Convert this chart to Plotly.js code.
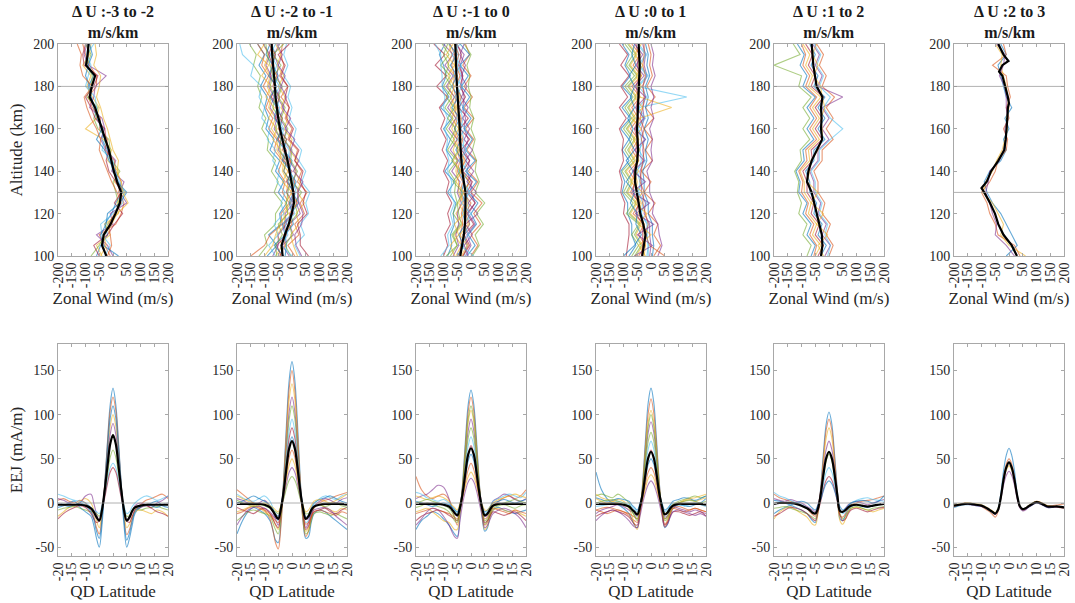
<!DOCTYPE html>
<html>
<head>
<meta charset="utf-8">
<script src="https://cdn.plot.ly/plotly-3.0.1.min.js"></script>
<style>html,body{margin:0;padding:0;background:#fff;}#chart{width:1075px;height:603px;}</style>
</head>
<body>
<div id="chart"></div>
<script>
// ---------- data ----------
const panelTitles = ['Δ U :-3 to -2', 'Δ U :-2 to -1', 'Δ U :-1 to 0', 'Δ U :0 to 1', 'Δ U :1 to 2', 'Δ U :2 to 3'];
const windTicks = [-200, -150, -100, -50, 0, 50, 100, 150, 200];
const altTicks = [100, 120, 140, 160, 180, 200];
const latTicks = [-20, -15, -10, -5, 0, 5, 10, 15, 20];
const eejTicks = [-50, 0, 50, 100, 150];
const refAlts = [130, 180];
const refEej = [0];

const altGrid = [100,105,110,115,120,125,130,135,140,145,150,155,160,165,170,175,180,185,190,195,200];
const alt6 = [100,105,110,115,120,125,130,132,135,140,145,150,155,160,165,170,172,175,180,185,187,190,192,195,200];

const windMean1 = [-24,-40,-34,-9,9,25,30,15,3,-6,-15,-28,-40,-52,-65,-85,-77,-65,-98,-92,-89];
const windMean2 = [-34,-38,-26,-12,-1,7,5,-2,-7,-16,-26,-35,-44,-50,-56,-60,-62,-66,-70,-72,-74];
const windMean3 = [-39,-32,-26,-22,-20,-20,-20,-27,-32,-35,-38,-40,-41,-44,-47,-49,-51,-53,-55,-56,-57];
const windMean4 = [-32,-26,-20,-28,-39,-45,-51,-58,-57,-50,-47,-48,-51,-49,-47,-46,-45,-42,-41,-43,-45];
const windMean5 = [-29,-24,-26,-35,-45,-54,-63,-80,-75,-63,-45,-25,-29,-27,-29,-24,-45,-52,-57,-60,-63];
const windMean6 = [29,10,-20,-39,-51,-69,-90,-100,-81,-65,-39,-17,-12,-8,-6,-4,0,-4,-14,-24,-36,-24,-2,-20,-39];

const windMembers1 = [
 [-60,-45,-20,-30,-5,10,35,20,0,-10,-20,-40,-35,-60,-70,-80,-90,-70,-100,-95,-90],
 [-10,-30,-50,10,30,40,20,30,10,5,-30,-20,-50,-45,-75,-90,-60,-60,-85,-100,-110],
 [-40,-60,-10,-30,20,15,45,5,20,-20,-5,-35,-100,-60,-50,-75,-95,-80,-110,-85,-80],
 [0,-20,-60,0,-10,50,25,40,-5,10,-25,-45,-30,-40,-85,-70,-65,-25,-90,-105,-95],
 [-80,-50,-30,-20,10,20,10,0,25,-5,-10,-15,-55,-70,-55,-95,-80,-75,-95,-80,-100],
 [-30,-10,-40,-45,0,35,40,25,5,0,-40,-30,-45,-55,-60,-65,-100,-90,-80,-95,-70],
 [-50,-70,-20,5,35,5,30,10,-15,-25,-15,-25,-30,-65,-80,-100,-70,-55,-105,-110,-100],
 [20,-35,-45,-25,-20,25,50,15,10,-15,-30,-60,-40,-50,-65,-80,-85,-100,-90,-75,-85],
 [-20,-5,-10,-15,5,30,15,-5,-20,-35,-50,-45,-60,-80,-95,-105,-75,-110,-120,-115,-130],
 [-45,-25,-35,-5,15,55,35,30,15,20,0,-10,-20,-35,-45,-60,-50,-45,-70,-60,-65]
];
const windMembers2 = [
 [-90,-55,-85,-40,-45,-20,-50,-30,-60,-45,-80,-65,-95,-85,-100,-90,-115,-95,-120,-100,-125],
 [10,-15,25,10,45,30,55,20,35,10,20,-15,0,-25,-10,-40,-15,-45,-30,-40,-35],
 [-60,-35,-55,-25,-30,-5,-20,-15,-35,-30,-55,-50,-75,-60,-85,-75,-90,-80,-100,-85,-105],
 [-10,-35,5,-10,30,15,25,5,15,-10,-5,-30,-20,-45,-30,-55,-40,-55,-50,-65,-45],
 [-120,-90,-100,-60,-60,-35,-65,-50,-75,-60,-90,-85,-110,-95,-120,-110,-125,-115,-140,-130,-155],
 [30,10,45,30,60,50,65,35,50,25,35,5,15,-10,0,-15,-5,-30,-15,-30,-20],
 [-40,-55,-20,-30,5,-5,10,-20,0,-30,-20,-50,-40,-60,-50,-75,-60,-80,-70,-85,-70],
 [-25,-20,-25,5,-5,25,0,15,-10,0,-30,-20,-45,-35,-55,-45,-65,-50,-70,-60,-75],
 [-150,-100,-80,-35,-40,-10,-35,-25,-50,-35,-65,-55,-85,-70,-95,-80,-105,-85,-110,-100,-125],
 [20,5,-5,25,15,45,20,30,10,20,-10,0,-30,-15,-40,-25,-50,-30,-55,-40,-60],
 [-70,-50,-50,-20,-25,5,-20,-5,-30,-20,-50,-40,-65,-55,-80,-65,-85,-75,-95,-80,-105],
 [-5,-25,0,-10,20,10,35,0,20,-5,0,-30,-15,-40,-25,-50,-35,-65,-40,-70,-30],
 [-60,-85,-50,-65,-30,-40,-25,-55,-45,-70,-60,-90,-80,-110,-100,-120,-110,-150,-140,-180,-190],
 [60,30,30,20,55,40,50,30,40,10,25,-10,5,-20,-10,-25,-15,-40,-25,-50,-10],
 [-30,-65,-25,-35,0,-10,5,-15,-5,-35,-25,-55,-35,-65,-55,-80,-55,-85,-70,-95,-80],
 [-45,-25,-30,0,-10,20,-5,10,-15,-5,-35,-20,-50,-35,-60,-45,-70,-55,-75,-60,-85],
 [-100,-70,-60,-45,-15,-25,0,-35,-15,-45,-40,-70,-55,-85,-65,-95,-75,-110,-85,-125,-100],
 [35,15,10,35,40,25,20,40,5,25,-5,10,-25,-5,-35,-20,-40,-25,-50,-35,-55],
 [-55,-60,-35,-50,-15,-20,-15,-5,-30,-20,-45,-40,-60,-45,-70,-60,-80,-70,-80,-90,-95],
 [0,-40,-15,-25,10,-5,15,5,-5,-15,-10,-40,-30,-50,-45,-65,-45,-70,-55,-80,-60]
];
const windMembers3 = [
 [-85,-70,-75,-60,-65,-55,-85,-60,-95,-65,-90,-75,-100,-70,-110,-80,-105,-90,-100,-115,-95],
 [0,25,0,35,10,40,0,25,-10,20,-15,10,-20,10,-25,5,-25,0,-30,-5,-20],
 [-55,-35,-60,-30,-55,-30,-45,-45,-55,-50,-65,-50,-70,-55,-75,-60,-85,-60,-85,-70,-80],
 [-20,0,-15,15,-10,15,0,0,-15,-5,-25,-10,-25,-20,-30,-25,-35,-30,-40,-25,-55],
 [-75,-50,-70,-40,-65,-50,-60,-55,-80,-50,-85,-60,-90,-65,-95,-70,-100,-75,-110,-80,-105],
 [-25,-15,-25,-5,-10,-10,-15,-10,-30,-15,-30,-25,-35,-30,-40,-35,-50,-35,-50,-45,-55],
 [-100,-85,-95,-75,-85,-70,-90,-80,-100,-85,-105,-90,-110,-95,-115,-85,-125,-90,-130,-95,-135],
 [-15,15,-10,20,0,25,-10,20,-20,15,-20,5,-25,0,-30,-5,-35,-10,-40,-5,-40],
 [-45,-35,-40,-30,-35,-25,-40,-30,-50,-40,-50,-45,-60,-50,-60,-55,-65,-60,-70,-60,-75],
 [-35,-15,-40,-10,-25,-10,-25,-5,-35,-25,-40,-35,-45,-40,-55,-40,-55,-50,-60,-55,-60],
 [-65,-45,-55,-45,-50,-35,-50,-40,-70,-45,-75,-50,-80,-55,-85,-60,-90,-65,-95,-65,-100],
 [5,30,15,45,20,50,15,30,15,20,5,15,0,10,-5,0,-10,-5,-15,0,-25],
 [-110,-80,-85,-65,-75,-60,-75,-70,-85,-80,-90,-85,-95,-85,-100,-95,-105,-105,-110,-110,-130],
 [-30,-5,-25,10,-15,15,-15,5,-30,-5,-35,-5,-40,-10,-45,-20,-40,-30,-45,-35,-50],
 [-50,-25,-45,-20,-30,-20,-35,-25,-45,-30,-55,-35,-60,-40,-70,-45,-70,-50,-75,-50,-80],
 [-30,-10,-30,-5,-20,0,-30,-5,-40,-20,-40,-30,-40,-35,-50,-35,-55,-40,-55,-45,-60],
 [-60,-75,-45,-60,-25,-45,-25,-55,-35,-65,-40,-65,-45,-70,-55,-75,-60,-85,-60,-90,-65],
 [-10,-25,5,-20,25,-10,20,-15,10,-20,5,-25,-5,-30,-10,-35,-15,-35,-20,-40,-25],
 [-90,-50,-65,-35,-45,-50,-30,-65,-40,-70,-45,-75,-55,-85,-60,-90,-70,-95,-80,-100,-85],
 [10,-40,-10,-25,0,-35,-5,-30,-10,-45,-15,-50,-20,-55,-25,-60,-30,-65,-35,-70,-40]
];
const windMembers4 = [
 [-80,-55,-70,-70,-85,-85,-105,-95,-110,-80,-105,-80,-110,-75,-105,-70,-105,-75,-95,-80,-105],
 [10,35,10,25,-10,15,-25,0,-35,5,-20,5,-25,10,-20,15,-15,5,-5,0,-10],
 [-55,-30,-55,-35,-75,-50,-85,-65,-90,-55,-80,-55,-85,-55,-80,-50,-80,-45,-75,-50,-80],
 [-5,0,-5,-5,-25,-20,-35,-35,-40,-25,-30,-25,-35,-25,-30,-20,-30,-15,-25,-20,-30],
 [-70,-45,-70,-45,-90,-65,-100,-80,-105,-70,-95,-70,-100,-70,-95,-65,-95,-60,-90,-65,-95],
 [-15,-10,-15,-15,-35,-30,-45,-40,-50,-35,-40,-35,-45,-30,-45,130,-50,-15,-45,-20,-50],
 [-90,-85,-80,-80,-100,-95,-110,-105,-115,-100,-105,-100,-115,-90,-115,-85,-110,-80,-110,-85,-115],
 [5,10,5,5,-10,-10,-25,-25,-30,-15,-20,-10,-25,-10,-20,-10,-20,-5,-15,-10,-20],
 [-45,-20,-45,-25,-65,-40,-75,-55,-80,-45,-70,-45,-75,-45,-70,-40,-70,-35,-65,-40,-70],
 [-25,-20,-25,-25,-45,-35,-55,-50,-60,-45,-50,-45,-55,-40,75,-40,-50,-35,-45,-40,-50],
 [25,40,30,25,5,10,-5,-5,-15,5,0,5,-5,10,0,10,0,15,5,10,0],
 [-60,-35,-60,-40,-80,-55,-90,-70,-95,-60,-85,-60,-90,-60,-85,-55,-85,-50,-80,-55,-85],
 [-10,-10,-15,-10,-40,-15,-50,-30,-55,-20,-45,-20,-50,-20,-45,-15,-45,-10,-40,-15,-45],
 [-35,-30,-30,-30,-55,-45,-65,-60,-65,-50,-55,-50,-60,-45,-55,-45,-55,-40,-50,-45,-55],
 [-100,-60,-35,-55,-50,-75,-60,-90,-65,-90,-60,-80,-65,-85,-60,-75,-60,-80,-55,-70,-60],
 [50,-5,-20,-10,-20,-30,-25,-40,-35,-30,-25,-35,-25,-40,-30,-25,-30,-20,-30,-25,-25],
 [-20,-45,0,-45,-15,-60,-30,-75,-45,-70,-40,-65,-35,-70,-30,-60,-35,-55,-30,-60,-35],
 [-60,5,-50,10,-55,-5,-70,-20,-65,-25,-60,-20,-60,-25,-55,-20,-60,-25,-55,-30,-60]
];
const windMembers5 = [
 [-65,-50,-80,-65,-95,-80,-110,-105,-120,-90,-95,-55,-80,-55,-80,-50,-95,-80,-105,-90,-115],
 [0,15,-10,5,-25,-15,-40,-40,-55,-25,-25,15,-10,15,-10,20,-25,-10,-35,-20,-45],
 [-50,-30,-60,-45,-75,-65,-90,-90,-105,-70,-75,-35,-60,-35,-60,-30,-75,-60,-85,-70,-95],
 [-15,5,-25,-10,-40,-30,-55,-55,-70,-40,-40,0,-25,0,-25,50,-40,-25,-50,-35,-60],
 [-80,-65,-95,-80,-110,-100,-115,-110,-125,-100,-105,-70,-95,-70,-95,-65,-110,-100,-200,-105,-130],
 [-5,5,-15,-5,-35,-25,-50,-50,-65,-35,-35,5,50,5,-20,5,-35,-20,-45,-30,-55],
 [-40,-20,-50,-35,-65,-55,-80,-80,-95,-60,-65,-25,-50,-25,-50,-20,-65,-50,-75,-60,-85],
 [-30,-10,-40,-25,-55,-45,-70,-70,-85,-55,-55,-15,-40,-15,-40,-15,-55,-40,-65,-50,-70],
 [-55,-45,-70,-55,-85,-75,-100,-95,-110,-80,-85,-45,-70,-45,-70,-45,-85,-70,-95,-85,-100],
 [-20,-40,-5,-45,-20,-65,-40,-80,-70,-65,-40,-25,-25,-30,-15,-25,-30,-55,-40,-60,-45]
];
const windMembers6 = [
 [-10,30,10,-10,-30,-60,-80,-90,-70,-30,-10,-20,0,-15,10,-10,-20,-30,-40,-10,-30],
 [40,20,-40,-50,-70,-80,-100,-70,-50,-40,-10,-5,-20,0,-10,5,-5,-10,-60,-10,-20],
 [60,0,-30,-20,-40,-60,-95,-85,-60,-45,-25,-15,-5,-10,0,-5,-10,-20,-30,-25,-50],
 [20,-10,-50,-45,-60,-70,-85,-75,-70,-35,-20,-10,-15,-5,-10,-10,-15,-35,-20,-15,-45]
];

const latGrid = [-20,-18,-16,-14,-12,-10,-8,-7,-6,-5,-4,-3,-2,-1,0,1,2,3,4,5,6,7,8,10,12,14,16,18,20];

const eejMean1 = [-2,-2,-2,-2,-2,-3,-6,-10,-16,-20,-8,15,42,67,77,67,42,15,-8,-20,-16,-9,-5,-3,-2,-2,-2,-2,-2];
const eejMean2 = [-1,-1,-1,-1,-1,-2,-5,-9,-14,-18,-6,14,40,62,70,62,40,14,-6,-18,-15,-8,-4,-2,-1,-1,-1,-1,-2];
const eejMean3 = [-1,-1,-1,-1,-1,-2,-4,-7,-11,-14,-5,12,35,55,62,55,35,12,-5,-14,-12,-7,-3,-1,-1,-1,-1,-1,-1];
const eejMean4 = [-1,-1,-1,-1,-1,-2,-4,-7,-10,-13,-4,11,33,51,58,51,33,11,-4,-13,-11,-6,-3,-1,-1,-1,-1,-1,-2];
const eejMean5 = [-1,0,0,0,-1,-3,-6,-8,-11,-12,-6,10,33,51,58,51,33,10,-9,-10,-8,-5,-3,-2,-3,-4,-3,-2,-1];
const eejMean6 = [-3,-2,-1,-1,-2,-3,-6,-8,-10,-12,-8,6,26,40,46,40,26,8,-4,-7,-6,-4,-2,1,-1,-4,-4,-4,-5];

const eejMembers1 = [
 [-5,-3,0,2,-5,-10,-15,-25,-40,-50,-25,20,70,112,130,112,70,20,-25,-50,-40,-25,-12,-5,-3,0,2,-3,-5],
 [3,5,2,0,3,0,-8,-15,-28,-35,-15,22,68,105,120,105,66,20,-15,-36,-30,-18,-8,-2,3,5,8,10,5],
 [-15,-10,-5,-3,2,5,0,-8,-20,-28,-10,18,55,87,100,87,55,18,-10,-28,-24,-15,-10,-8,-10,-12,-8,-10,-15],
 [5,3,0,-2,0,8,10,0,-12,-20,-5,17,50,78,90,78,50,16,-6,-20,-18,-10,-3,0,-2,-5,0,3,8],
 [-8,-6,-5,-4,-6,-8,-10,-10,-12,-15,-5,10,32,52,60,52,33,10,-5,-15,-14,-8,-6,-8,-6,-5,-4,-6,-8],
 [10,8,5,3,2,0,-5,-8,-10,-12,-3,8,25,40,45,40,25,8,-3,-12,-10,-4,0,5,8,6,3,5,8],
 [-18,-12,-8,-5,-3,-5,-12,-18,-22,-20,-8,6,22,35,40,35,22,6,-8,-20,-22,-15,-8,-5,-3,-6,-10,-12,-15],
 [0,-2,-4,-2,0,-3,-10,-18,-32,-40,-18,20,62,96,110,96,62,20,-18,-42,-34,-20,-10,-4,-2,-3,-5,-2,0]
];
const eejMembers2 = [
 [-35,-20,-10,-5,-8,-12,-20,-30,-42,-45,-20,30,90,140,160,140,90,28,-20,-40,-38,-22,-12,-8,-10,-15,-20,-25,-30],
 [15,10,5,0,-3,-8,-18,-30,-45,-52,-25,25,82,130,150,128,80,22,-20,-38,-32,-18,-6,0,3,5,8,10,12],
 [-10,-8,-5,-3,-5,-10,-14,-18,-25,-30,-12,25,75,118,135,118,74,24,-12,-32,-28,-15,-5,-2,-5,-8,-10,-6,-8],
 [5,3,0,-2,0,3,-4,-10,-18,-25,-8,22,66,104,120,104,66,22,-8,-28,-22,-12,-4,2,5,3,0,4,6],
 [-20,-15,-10,-8,-10,-12,-15,-22,-30,-35,-15,18,60,95,110,96,60,18,-15,-35,-32,-20,-12,-10,-12,-14,-12,-15,-18],
 [10,6,3,2,5,8,2,-5,-14,-20,-5,18,52,82,95,82,52,18,-5,-22,-20,-10,-2,5,8,6,4,8,10],
 [-5,-8,-10,-12,-8,-6,-12,-18,-24,-28,-10,14,46,74,85,74,46,14,-10,-30,-26,-16,-10,-8,-6,-10,-12,-8,-5],
 [0,2,5,8,5,2,-3,-7,-12,-15,-3,14,42,65,75,65,42,14,-4,-16,-14,-6,0,4,6,8,5,2,0],
 [-12,-10,-6,-4,-6,-8,-12,-16,-20,-22,-8,10,32,52,60,52,32,10,-8,-24,-22,-15,-10,-8,-10,-12,-14,-10,-12],
 [8,5,2,0,-2,0,-3,-5,-8,-10,-2,10,28,43,50,43,28,10,-2,-10,-8,-3,2,4,2,0,3,6,10],
 [-25,-15,-8,-5,-4,-6,-10,-14,-17,-18,-6,6,22,35,40,35,22,6,-6,-18,-18,-12,-8,-6,-5,-8,-15,-20,-25],
 [3,0,-2,-4,-2,-3,-6,-8,-10,-12,-4,5,17,26,30,26,17,5,-4,-12,-12,-8,-4,-2,-4,-2,0,-3,-5]
];
const eejMembers3 = [
 [-30,-20,-15,-10,-12,-18,-25,-30,-35,-38,-15,25,72,112,128,112,72,24,-15,-32,-28,-15,-8,-5,-8,-10,-12,-10,-8],
 [30,15,8,5,8,10,4,-6,-16,-25,-8,22,66,104,120,104,66,22,-8,-25,-22,-12,-4,2,6,8,5,8,15],
 [-10,-8,-6,-10,-15,-20,-22,-26,-30,-30,-12,18,58,92,105,92,58,18,-12,-30,-26,-15,-8,-6,-8,-10,-8,-12,-15],
 [5,8,10,15,20,18,5,-5,-12,-15,-2,18,52,82,95,82,52,18,-2,-15,-14,-6,2,6,10,8,4,2,5],
 [-5,-3,0,-2,-4,-6,-10,-15,-20,-22,-8,14,46,74,85,74,46,14,-8,-24,-20,-12,-6,-3,-2,-4,-6,-3,-2],
 [12,10,6,4,2,4,0,-4,-8,-12,-2,14,42,65,75,65,42,14,-3,-12,-10,-4,2,5,8,10,8,6,12],
 [-20,-15,-12,-10,-8,-10,-14,-16,-18,-20,-8,10,36,56,65,56,36,10,-8,-22,-20,-14,-10,-12,-14,-12,-10,-14,-20],
 [2,0,-2,-4,-2,0,-2,-4,-7,-10,-2,10,30,48,55,48,30,10,-2,-10,-8,-4,0,2,4,2,0,2,4],
 [-12,-10,-8,-6,-8,-10,-12,-14,-16,-18,-6,6,24,38,45,38,24,6,-6,-18,-16,-10,-6,-8,-10,-12,-8,-10,-12],
 [8,6,4,6,8,6,2,-2,-5,-8,0,8,20,30,35,30,20,8,-1,-8,-8,-4,0,4,6,8,10,8,6],
 [-25,-18,-10,-6,-8,-15,-25,-32,-38,-40,-20,0,14,24,28,24,14,0,-14,-28,-25,-18,-12,-8,-6,-8,-12,-18,-28],
 [0,2,4,2,0,-2,-6,-10,-16,-20,-6,20,60,96,110,96,60,20,-6,-20,-18,-10,-4,-2,0,2,4,2,0]
];
const eejMembers4 = [
 [35,15,5,0,-2,-6,-12,-18,-25,-28,-10,25,72,114,130,114,72,24,-10,-28,-24,-14,-6,-2,-3,-4,-2,0,5],
 [-8,-6,-5,-6,-8,-10,-14,-18,-20,-22,-8,22,66,102,118,102,66,22,-8,-24,-20,-12,-6,-4,-6,-8,-6,-8,-10],
 [5,2,0,2,4,2,-6,-14,-24,-30,-12,18,58,92,105,92,58,18,-12,-27,-22,-12,-4,0,2,4,2,4,6],
 [-12,-8,-6,-4,-2,-4,-8,-10,-12,-15,-4,16,50,80,92,80,50,16,-4,-16,-14,-8,-4,-6,-8,-10,-8,-10,-12],
 [8,10,8,6,10,6,0,-8,-15,-20,-6,14,44,70,80,70,44,14,-6,-20,-18,-10,-2,2,4,6,8,6,8],
 [-4,-3,-2,0,2,0,-2,-4,-7,-10,-2,12,38,61,70,61,38,12,-2,-10,-8,-3,0,-2,-3,-2,0,-2,-4],
 [-15,-12,-10,-8,-10,-12,-16,-20,-24,-25,-10,8,32,52,60,52,32,8,-10,-25,-22,-15,-10,-10,-12,-14,-12,-10,-15],
 [6,4,2,3,5,4,2,-2,-5,-8,0,9,28,44,50,44,28,9,0,-8,-6,-2,2,4,6,5,3,5,8],
 [-8,-10,-12,-10,-8,-10,-12,-14,-16,-18,-8,5,22,35,40,35,22,5,-8,-18,-16,-10,-6,-8,-10,-8,-6,-8,-10],
 [10,6,4,2,0,-2,-5,-8,-10,-12,-4,5,17,28,32,28,17,5,-4,-12,-10,-6,-2,0,3,5,6,8,10],
 [-20,-14,-10,-8,-10,-14,-20,-24,-27,-28,-15,0,12,21,25,21,12,0,-14,-27,-24,-16,-10,-8,-10,-12,-14,-12,-15],
 [0,2,3,4,2,0,-5,-9,-14,-18,-5,18,56,87,100,87,56,18,-5,-18,-15,-8,-2,0,2,3,2,0,2]
];
const eejMembers5 = [
 [-12,-8,-5,-3,-5,-8,-12,-16,-20,-22,-10,18,58,90,103,90,56,16,-18,-20,-14,-8,-4,-2,-4,-5,-3,-2,0],
 [10,6,4,2,0,-3,-6,-10,-13,-15,-5,16,52,83,95,83,52,14,-14,-16,-12,-6,-2,0,2,3,4,6,8],
 [-18,-10,-6,-4,-8,-12,-16,-20,-24,-25,-12,12,46,74,85,74,44,10,-20,-24,-18,-10,-6,-5,-6,-8,-10,-8,-6],
 [5,3,2,4,2,0,-4,-6,-8,-10,-2,12,40,61,70,61,40,10,-8,-10,-6,-2,0,2,0,-2,0,2,4],
 [-6,-5,-4,-6,-8,-10,-12,-14,-16,-18,-8,8,30,48,55,48,30,6,-12,-18,-15,-10,-6,-4,-6,-8,-6,-5,-4],
 [12,8,6,3,0,-2,-5,-8,-10,-12,-4,6,22,35,40,35,22,4,-8,-12,-10,-4,0,3,5,6,4,3,2],
 [-15,-12,-8,-5,-6,-8,-12,-15,-18,-20,-10,2,16,26,30,26,16,2,-14,-20,-18,-12,-8,-6,-8,-10,-8,-6,-5],
 [3,2,0,-2,0,2,0,-3,-6,-8,-2,4,14,22,25,22,14,4,-4,-8,-6,-3,0,2,3,2,0,2,8]
];
const eejMembers6 = [
 [-5,-3,-2,-2,-3,-4,-7,-9,-11,-12,-6,10,36,54,62,54,36,10,-4,-8,-7,-5,-3,0,-2,-5,-5,-4,-5],
 [-4,-2,0,-1,-2,-4,-8,-10,-13,-16,-10,6,28,44,50,44,28,8,-4,-8,-7,-4,-2,2,0,-3,-3,-2,-1],
 [-2,-1,0,0,-1,-2,-5,-7,-9,-11,-6,6,24,37,42,37,24,6,-5,-7,-6,-3,-1,2,0,-3,-4,-5,-6],
 [-3,-2,-1,-2,-3,-4,-6,-8,-10,-13,-8,4,20,31,36,31,20,4,-6,-9,-8,-5,-3,0,-2,-5,-5,-5,-6]
];

// ---------- build ----------
const windMeans = [windMean1, windMean2, windMean3, windMean4, windMean5, windMean6];
const windMeanAlts = [altGrid, altGrid, altGrid, altGrid, altGrid, alt6];
const windMembers = [windMembers1, windMembers2, windMembers3, windMembers4, windMembers5, windMembers6];
const eejMeans = [eejMean1, eejMean2, eejMean3, eejMean4, eejMean5, eejMean6];
const eejMembers = [eejMembers1, eejMembers2, eejMembers3, eejMembers4, eejMembers5, eejMembers6];

const colors = ['#0072BD','#D95319','#EDB120','#7E2F8E','#77AC30','#4DBEEE','#A2142F'];
const FONT = '"Liberation Serif", "Times New Roman", Times, serif';
const W = 1075, H = 603;
const lefts = [58, 237, 416, 596, 774, 954];
const pw = 110;
const topDom = [1 - 256 / H, 1 - 44 / H];
const botDom = [1 - 556 / H, 1 - 344 / H];

const traces = [];
const layout = {
  width: W, height: H,
  margin: {l: 0, r: 0, t: 0, b: 0},
  paper_bgcolor: '#ffffff', plot_bgcolor: '#ffffff',
  showlegend: false,
  font: {family: FONT, size: 14, color: '#262626'},
  annotations: [], shapes: []
};

function axStyle(extra) {
  return Object.assign({
    showline: true, linecolor: '#a8a8a8', linewidth: 1, mirror: 'ticks',
    ticks: 'inside', ticklen: 3, tickcolor: '#a8a8a8', tickwidth: 1,
    showgrid: false, zeroline: false, fixedrange: true,
    tickfont: {family: FONT, size: 14, color: '#262626'}
  }, extra);
}

const titleFont = {family: FONT, size: 17, color: '#262626'};

for (let i = 0; i < 6; i++) {
  const kt = i + 1, kb = i + 7;
  const sxT = kt === 1 ? '' : String(kt);
  const sxB = String(kb);
  const dom = [lefts[i] / W, (lefts[i] + pw) / W];

  windMembers[i].forEach((m, j) => {
    traces.push({x: m, y: altGrid, type: 'scatter', mode: 'lines', xaxis: 'x' + sxT, yaxis: 'y' + sxT,
      line: {color: colors[j % colors.length], width: 1.1}, opacity: 0.6, hoverinfo: 'skip'});
  });
  traces.push({x: windMeans[i], y: windMeanAlts[i], type: 'scatter', mode: 'lines', xaxis: 'x' + sxT, yaxis: 'y' + sxT,
    line: {color: '#000000', width: 2.2}, hoverinfo: 'skip'});

  eejMembers[i].forEach((m, j) => {
    traces.push({x: latGrid, y: m, type: 'scatter', mode: 'lines', xaxis: 'x' + sxB, yaxis: 'y' + sxB,
      line: {color: colors[j % colors.length], width: 1.1, shape: 'spline', smoothing: 1}, opacity: 0.6, hoverinfo: 'skip'});
  });
  traces.push({x: latGrid, y: eejMeans[i], type: 'scatter', mode: 'lines', xaxis: 'x' + sxB, yaxis: 'y' + sxB,
    line: {color: '#000000', width: 2.2, shape: 'spline', smoothing: 1}, hoverinfo: 'skip'});

  layout['xaxis' + sxT] = axStyle({domain: dom, anchor: 'y' + sxT, range: [-200, 200],
    tickvals: windTicks, ticktext: windTicks.map(String), tickangle: -90,
    title: {text: 'Zonal Wind (m/s)', font: titleFont, standoff: 4}});
  layout['yaxis' + sxT] = axStyle({domain: topDom, anchor: 'x' + sxT, range: [100, 200],
    tickvals: altTicks, ticktext: altTicks.map(String),
    title: i === 0 ? {text: 'Altitude (km)', font: titleFont, standoff: 6} : {text: ''}});

  layout['xaxis' + sxB] = axStyle({domain: dom, anchor: 'y' + sxB, range: [-20, 20],
    tickvals: latTicks, ticktext: latTicks.map(String), tickangle: -90,
    title: {text: 'QD Latitude', font: titleFont, standoff: 4}});
  layout['yaxis' + sxB] = axStyle({domain: botDom, anchor: 'x' + sxB, range: [-60, 180],
    tickvals: eejTicks, ticktext: eejTicks.map(String),
    title: i === 0 ? {text: 'EEJ (mA/m)', font: titleFont, standoff: 6} : {text: ''}});

  refAlts.forEach(a => layout.shapes.push({type: 'line', xref: 'x' + sxT + ' domain', yref: 'y' + sxT,
    x0: 0, x1: 1, y0: a, y1: a, line: {color: 'rgba(150,150,150,0.75)', width: 1}, layer: 'above'}));
  refEej.forEach(a => layout.shapes.push({type: 'line', xref: 'x' + sxB + ' domain', yref: 'y' + sxB,
    x0: 0, x1: 1, y0: a, y1: a, line: {color: 'rgba(150,150,150,0.75)', width: 1}, layer: 'above'}));

  layout.annotations.push({xref: 'paper', yref: 'paper', x: (dom[0] + dom[1]) / 2, y: topDom[1],
    xanchor: 'center', yanchor: 'bottom', yshift: 1, showarrow: false,
    text: '<b>' + panelTitles[i] + '</b><br><b>m/s/km</b>',
    font: {family: FONT, size: 16, color: '#1a1a1a'}});
}

Plotly.newPlot('chart', traces, layout, {staticPlot: true, displayModeBar: false});
</script>
</body>
</html>
